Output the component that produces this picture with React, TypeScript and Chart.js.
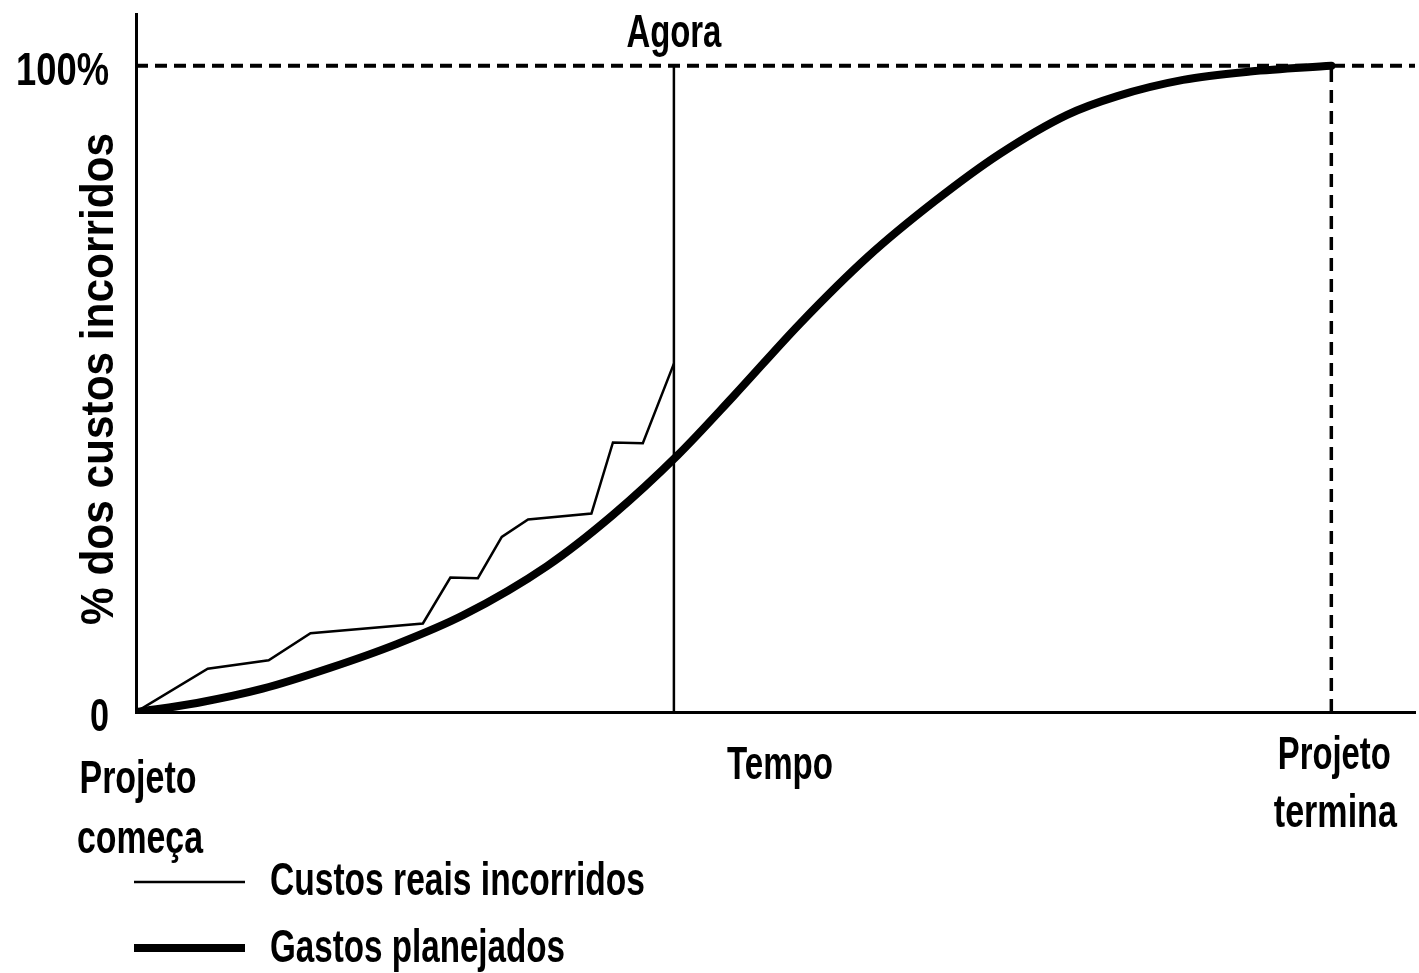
import React, { useEffect, useRef } from 'react';
import { Chart, registerables } from 'chart.js';

Chart.register(...registerables);

// ---- data (time in % of project duration, cost in % of total) ----
const plannedTime = [0, 5.1, 10.6, 16.2, 21.8, 27.4, 34.4, 39.9, 45.3, 50.0, 55.6, 61.2, 66.8, 72.3, 77.9, 82.1, 87.6, 93.2, 100];
const plannedPct = [0, 1.4, 3.6, 6.8, 10.5, 15.0, 22.6, 30.5, 39.7, 48.9, 60.2, 70.4, 79.0, 86.4, 92.4, 95.3, 97.8, 99.1, 100];

const actualTime = [0, 6.0, 11.1, 14.6, 24.0, 26.3, 28.6, 30.6, 32.8, 38.1, 39.9, 42.4, 45];
const actualPct = [0, 6.7, 8.0, 12.2, 13.7, 20.8, 20.7, 27.1, 29.8, 30.7, 41.7, 41.6, 53.9];

const nowTime = 45;
const endTime = 100;
const fullPct = 100;
const xMax = 107;
const yMax = 108;

const yTickValues = [0, 100];
const yTickLabels = ['0', '100%'];

const yTitle = '% dos custos incorridos';
const nowLabel = 'Agora';
const timeLabel = 'Tempo';
const startLabel = ['Projeto', 'começa'];
const endLabel = ['Projeto', 'termina'];
const legendLabels = ['Custos reais incorridos', 'Gastos planejados'];

const FONT = '"Liberation Sans", Arial, sans-serif';

function fitText(
  ctx: CanvasRenderingContext2D,
  s: string,
  x: number,
  y: number,
  size: number,
  w: number,
  rotate = 0,
  align: CanvasTextAlign = 'center',
) {
  ctx.save();
  ctx.font = `bold ${size}px ${FONT}`;
  const m = ctx.measureText(s).width;
  const sx = w / m;
  ctx.translate(x, y);
  if (rotate) ctx.rotate(rotate);
  ctx.scale(sx, 1);
  ctx.textAlign = align;
  ctx.textBaseline = 'alphabetic';
  ctx.fillStyle = '#000';
  ctx.fillText(s, 0, 0);
  ctx.restore();
}

const annotations = {
  id: 'annotations',
  afterDraw(chart: any) {
    const ctx: CanvasRenderingContext2D = chart.ctx;
    const xs = chart.scales.x;
    const ys = chart.scales.y;
    const nowX = xs.getPixelForValue(nowTime);
    const startX = xs.getPixelForValue(0);
    const endX = xs.getPixelForValue(endTime);

    // y tick labels
    const tickW = [19, 93];
    yTickValues.forEach((v, i) => {
      const py = ys.getPixelForValue(v);
      fitText(ctx, yTickLabels[i], 109, py + 19, 46, tickW[i], 0, 'right');
    });

    fitText(ctx, nowLabel, nowX, 47, 46, 95);
    fitText(ctx, timeLabel, 780, 779, 46, 106);
    fitText(ctx, startLabel[0], startX + 2, 793, 46, 117);
    fitText(ctx, startLabel[1], startX + 4, 853, 46, 126);
    fitText(ctx, endLabel[0], endX + 3, 769, 46, 113);
    fitText(ctx, endLabel[1], endX + 4, 827, 46, 123);
    fitText(ctx, yTitle, 113, 379, 46, 492, -Math.PI / 2);

    // legend
    ctx.save();
    ctx.strokeStyle = '#000';
    ctx.lineWidth = 2.5;
    ctx.beginPath();
    ctx.moveTo(134, 882);
    ctx.lineTo(245, 882);
    ctx.stroke();
    ctx.lineWidth = 8;
    ctx.beginPath();
    ctx.moveTo(134, 948);
    ctx.lineTo(245, 948);
    ctx.stroke();
    ctx.restore();
    fitText(ctx, legendLabels[0], 270, 895, 46, 375, 0, 'left');
    fitText(ctx, legendLabels[1], 270, 962, 46, 295, 0, 'left');
  },
};

export default function App() {
  const ref = useRef<HTMLCanvasElement | null>(null);

  useEffect(() => {
    document.body.style.margin = '0';
    const canvas = ref.current;
    if (!canvas) return;

    const planned = plannedTime.map((t, i) => ({ x: t, y: plannedPct[i] }));
    const actual = actualTime.map((t, i) => ({ x: t, y: actualPct[i] }));

    const chart = new Chart(canvas, {
      type: 'line',
      data: {
        datasets: [
          {
            label: 'fullLine',
            data: [{ x: 0, y: fullPct }, { x: xMax, y: fullPct }],
            borderColor: '#000',
            borderWidth: 4,
            borderDash: [12, 7],
            pointRadius: 0,
          },
          {
            label: 'endLine',
            data: [{ x: endTime, y: 0 }, { x: endTime, y: fullPct }],
            borderColor: '#000',
            borderWidth: 3.5,
            borderDash: [13, 8],
            pointRadius: 0,
          },
          {
            label: 'nowLine',
            data: [{ x: nowTime, y: 0 }, { x: nowTime, y: fullPct }],
            borderColor: '#000',
            borderWidth: 2.5,
            pointRadius: 0,
          },
          {
            label: legendLabels[0],
            data: actual,
            borderColor: '#000',
            borderWidth: 2.5,
            pointRadius: 0,
            tension: 0,
          },
          {
            label: legendLabels[1],
            data: planned,
            borderColor: '#000',
            borderWidth: 8,
            borderCapStyle: 'round',
            pointRadius: 0,
            cubicInterpolationMode: 'monotone',
          },
        ],
      },
      options: {
        responsive: false,
        animation: false,
        events: [],
        layout: { padding: { left: 0, top: 14, right: 4, bottom: 0 } },
        plugins: {
          legend: { display: false },
          tooltip: { enabled: false },
          title: { display: false },
        },
        scales: {
          x: {
            type: 'linear',
            min: 0,
            max: xMax,
            grid: { display: false },
            border: { display: true, color: '#000', width: 3 },
            ticks: { display: false },
            afterFit: (s: any) => {
              s.height = 261;
            },
          },
          y: {
            type: 'linear',
            min: 0,
            max: yMax,
            grid: { display: false },
            border: { display: true, color: '#000', width: 3 },
            ticks: { display: false },
            afterFit: (s: any) => {
              s.width = 136;
            },
          },
        },
      },
      plugins: [annotations],
    });

    return () => chart.destroy();
  }, []);

  return (
    <div style={{ position: 'absolute', left: 0, top: 0, width: 1419, height: 973, background: '#fff' }}>
      <canvas ref={ref} width={1419} height={973} />
    </div>
  );
}
